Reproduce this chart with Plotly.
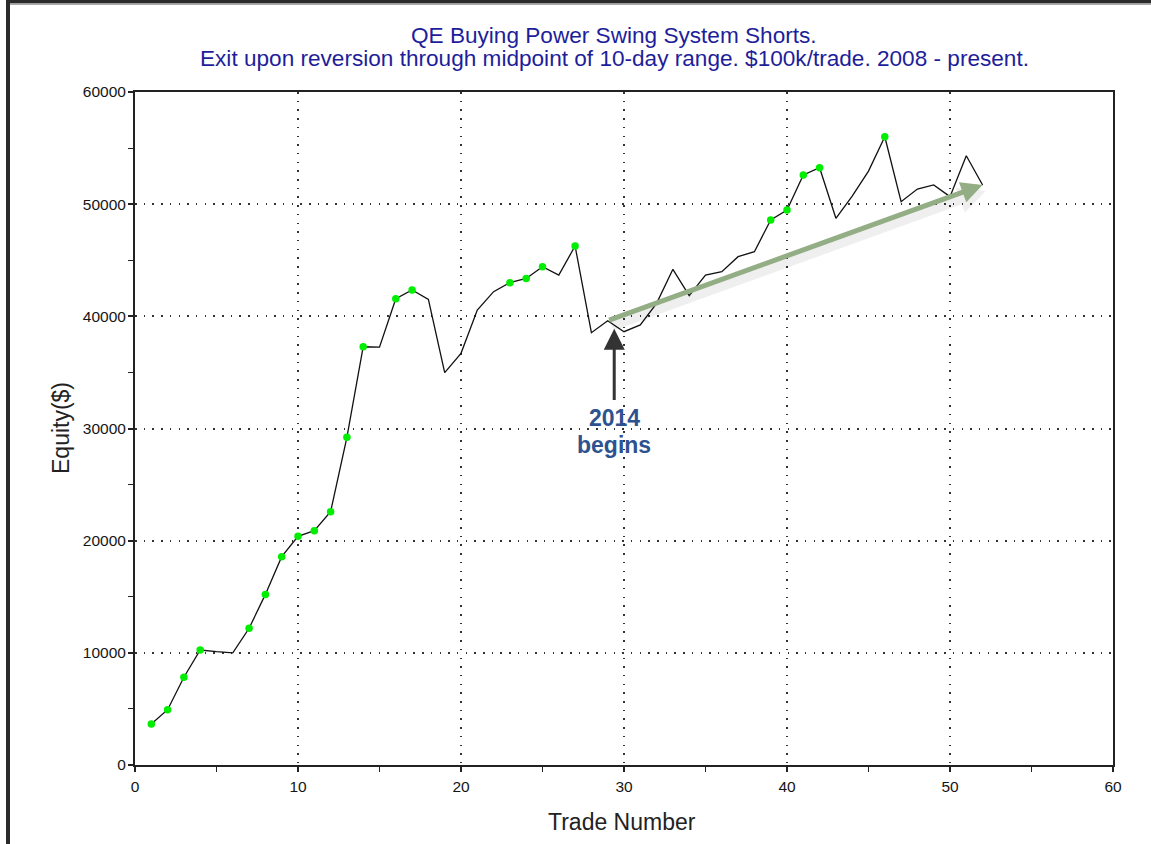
import plotly.graph_objects as go

# ---- data ----
trade = list(range(1, 53))
equity = [3650, 4930, 7820, 10250, 10100, 10000, 12190, 15210, 18570, 20390,
          20890, 22580, 29210, 37290, 37250, 41570, 42350, 41510, 34980, 36700,
          40560, 42200, 43000, 43380, 44430, 43680, 46270, 38540, 39610, 38630,
          39230, 41160, 44190, 41840, 43680, 43980, 45320, 45760, 48590, 49480,
          52600, 53250, 48740, 50720, 52950, 56010, 50220, 51350, 51710, 50670,
          54320, 51710]
high_trades = [1, 2, 3, 4, 7, 8, 9, 10, 11, 12, 13, 14, 16, 17, 23, 24, 25, 27,
               39, 40, 41, 42, 46]
high_equity = [equity[t - 1] for t in high_trades]

x_ticks = [0, 10, 20, 30, 40, 50, 60]
y_ticks = [0, 10000, 20000, 30000, 40000, 50000, 60000]
y_tick_text = ["0", "10000", "20000", "30000", "40000", "50000", "60000"]

title_line1 = "QE Buying Power Swing System Shorts."
title_line2 = "Exit upon reversion through midpoint of 10-day range. $100k/trade. 2008 - present."

# annotation anchor points in data units (trade number, equity)
trend_start = (29, 39610)
trend_end = (52, 51710)
marker_tip = (29.4, 38900)
marker_tail = (29.4, 32400)
label_year_pos = (29.4, 30930)
label_word_pos = (29.4, 28530)

# ---- layout geometry (pixels) ----
W, H = 1151, 844
L, R, T, B = 135, 38, 92, 79
PW, PH = W - L - R, H - T - B


def px(p):
    return (p - L) / PW


def py(q):
    return (H - B - q) / PH


FONT = "Liberation Sans, Arial, sans-serif"

fig = go.Figure()
fig.add_trace(go.Scatter(x=trade, y=equity, mode="lines",
                         line=dict(color="#111111", width=1.3),
                         showlegend=False, hoverinfo="skip"))
fig.add_trace(go.Scatter(x=high_trades, y=high_equity, mode="markers",
                         marker=dict(color="#00EE00", size=7.5, line=dict(width=0)),
                         showlegend=False))

axis_common = dict(
    showline=True, mirror=True, linecolor="#222222", linewidth=2,
    showgrid=True, gridcolor="#333333", gridwidth=1.5, griddash="1.5px,7.2px",
    ticks="outside", ticklen=5, tickwidth=1.5, tickcolor="#222222",
    tickfont=dict(family=FONT, size=15.5, color="#151515"),
    zeroline=False,
)

fig.update_xaxes(range=[0, 60], tickvals=x_ticks, ticktext=[str(v) for v in x_ticks],
                 ticklabelstandoff=1,
                 minor=dict(dtick=5, tick0=0, ticks="outside", ticklen=5,
                            tickwidth=1.2, tickcolor="#222222", showgrid=False),
                 **axis_common)
fig.update_yaxes(range=[0, 60000], tickvals=y_ticks, ticktext=y_tick_text,
                 ticklabelstandoff=-1,
                 minor=dict(dtick=5000, tick0=0, ticks="outside", ticklen=5,
                            tickwidth=1.2, tickcolor="#222222", showgrid=False),
                 **axis_common)

annotations = [
    dict(text=title_line1, xref="paper", yref="paper", x=px(614), y=py(35),
         xanchor="center", yanchor="middle", showarrow=False,
         font=dict(family=FONT, size=22.6, color="#1E1E9A")),
    dict(text=title_line2, xref="paper", yref="paper", x=px(614), y=py(59),
         xanchor="center", yanchor="middle", showarrow=False,
         font=dict(family=FONT, size=22.6, color="#1E1E9A")),
    dict(text="Trade Number", xref="paper", yref="paper", x=px(622), y=py(822),
         xanchor="center", yanchor="middle", showarrow=False,
         font=dict(family=FONT, size=23, color="#222222")),
    dict(text="Equity($)", xref="paper", yref="paper", x=px(61), y=py(428),
         xanchor="center", yanchor="middle", showarrow=False, textangle=-90,
         font=dict(family=FONT, size=23, color="#222222")),
    # trend arrow shadow
    dict(text="", x=trend_end[0], y=trend_end[1], ax=trend_start[0], ay=trend_start[1],
         xref="x", yref="y", axref="x", ayref="y", showarrow=True,
         arrowhead=2, arrowsize=0.6, arrowwidth=9, arrowcolor="rgba(0,0,0,0.06)",
         xshift=3, yshift=-6),
    # trend arrow
    dict(text="", x=trend_end[0], y=trend_end[1], ax=trend_start[0], ay=trend_start[1],
         xref="x", yref="y", axref="x", ayref="y", showarrow=True,
         arrowhead=2, arrowsize=0.85, arrowwidth=5, arrowcolor="#93AD84"),
    # black pointer arrow
    dict(text="", x=marker_tip[0], y=marker_tip[1], ax=marker_tail[0], ay=marker_tail[1],
         xref="x", yref="y", axref="x", ayref="y", showarrow=True,
         arrowhead=2, arrowsize=1.4, arrowwidth=3, arrowcolor="#333333"),
    dict(text="<b>2014</b>", x=label_year_pos[0], y=label_year_pos[1],
         xref="x", yref="y", showarrow=False, xanchor="center", yanchor="middle",
         font=dict(family=FONT, size=23, color="#2E528F")),
    dict(text="<b>begins</b>", x=label_word_pos[0], y=label_word_pos[1],
         xref="x", yref="y", showarrow=False, xanchor="center", yanchor="middle",
         font=dict(family=FONT, size=23, color="#2E528F")),
]

shapes = [
    # outer dark frame (left and top edges of the screenshot)
    dict(type="rect", xref="paper", yref="paper", x0=px(6), x1=px(10), y0=py(H), y1=py(0),
         fillcolor="#2B2B2B", line=dict(width=0), layer="above"),
    dict(type="rect", xref="paper", yref="paper", x0=px(6), x1=px(W), y0=py(3.5), y1=py(0),
         fillcolor="#2B2B2B", line=dict(width=0), layer="above"),
    dict(type="rect", xref="paper", yref="paper", x0=px(10), x1=px(W), y0=py(5), y1=py(3.5),
         fillcolor="#AAAAAA", line=dict(width=0), layer="above"),
]

fig.update_layout(
    width=W, height=H,
    margin=dict(l=L, r=R, t=T, b=B, autoexpand=False),
    paper_bgcolor="white", plot_bgcolor="white",
    annotations=annotations, shapes=shapes,
    showlegend=False,
    font=dict(family=FONT),
)

fig.write_html("out.html", config={"displayModeBar": False},
               post_script="document.body.style.margin='0px';document.body.style.overflow='hidden';")
